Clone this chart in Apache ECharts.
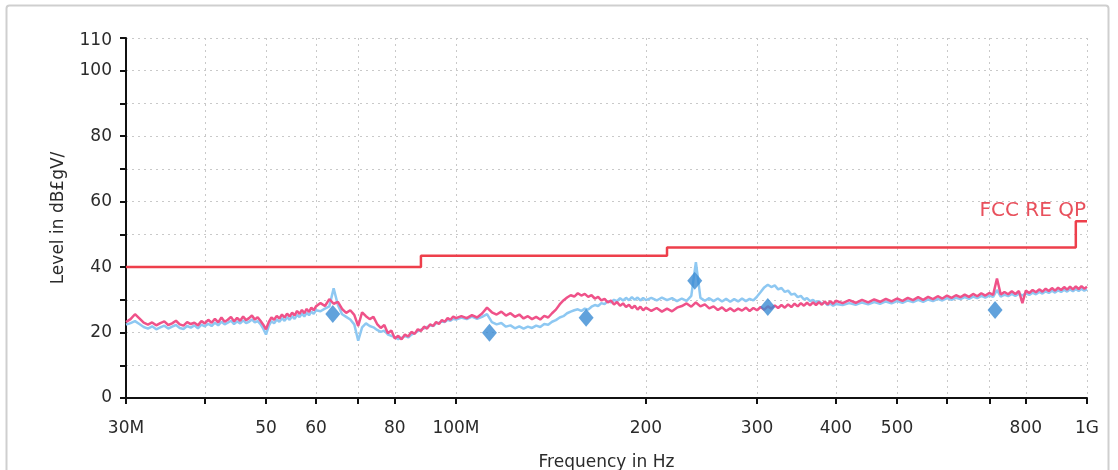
<!DOCTYPE html>
<html>
<head>
<meta charset="utf-8">
<script src="https://cdn.jsdelivr.net/npm/echarts@6/dist/echarts.min.js"></script>
<style>
  html, body { margin: 0; padding: 0; background: #fff; }
  #chart { width: 1118px; height: 470px; }
</style>
</head>
<body>
<div id="chart"></div>
<script>
// sweep frequencies in MHz
var freq = [
  30,30.5,31,31.5,32,32.5,33,33.5,34,34.5,
  35,35.5,36,36.5,37,37.5,38,38.5,39,39.5,
  40,40.5,41,41.5,42,42.5,43,43.5,44,44.5,
  45,45.5,46,46.5,47,47.5,48,48.5,49,49.5,
  50,50.5,51,51.5,52,52.5,53,53.5,54,54.5,
  55,55.5,56,56.5,57,57.5,58,58.5,59,59.5,
  60,
  61,62,63,64,65,66,67,68,69,70,
  71,72,73,74,75,76,77,78,79,80,
  81,82,83,84,85,86,87,88,89,90,
  91,92,93,94,95,96,97,98,99,100,
  102,104,106,108,110,112,114,116,118,120,
  122,124,126,128,130,132,134,136,138,140,
  142,144,146,148,150,152,154,156,158,160,
  162,164,166,168,170,172,174,176,178,180,
  182,184,186,188,190,192,194,196,198,200,
  204,208,212,216,220,224,228,232,236,240,
  244,248,252,256,260,264,268,272,276,280,
  284,288,292,296,300,304,308,312,316,320,
  324,328,332,336,340,344,348,352,356,360,
  364,368,372,376,380,384,388,392,396,400,
  410,420,430,440,450,460,470,480,490,500,
  510,520,530,540,550,560,570,580,590,600,
  610,620,630,640,650,660,670,680,690,700,
  710,720,730,740,750,760,770,780,790,800,
  810,820,830,840,850,860,870,880,890,900,
  910,920,930,940,950,960,970,980,990,1000
];

// pink trace (dBuV/m)
var pinkLevel = [
  23.2,24.1,25.6,24.3,23.0,22.4,23.1,22.2,22.9,23.4,
  22.3,22.8,23.6,22.5,22.1,23.2,22.6,23.0,22.2,23.5,
  22.8,23.9,23.0,24.2,23.1,24.6,23.3,23.9,24.8,23.4,
  24.5,23.6,24.9,23.8,24.4,25.2,24.0,24.7,23.6,22.4,
  21.0,23.2,24.6,23.9,25.1,24.3,25.5,24.6,25.8,24.9,
  26.1,25.2,26.6,25.7,26.9,25.9,27.2,26.3,27.6,26.8,
  28.0,
  29.0,28.1,30.2,28.8,29.4,27.2,26.0,26.8,25.4,22.0,
  26.2,25.0,24.1,24.8,22.6,21.4,22.3,19.8,20.6,18.2,
  19.0,17.9,19.4,18.8,20.2,19.6,21.0,20.5,21.8,21.2,
  22.5,22.0,23.2,22.6,23.8,23.3,24.4,23.9,24.9,24.4,
  25.0,24.4,25.3,24.6,25.8,27.6,26.2,25.5,26.4,25.2,
  25.9,24.8,25.5,24.3,25.0,24.1,24.8,24.0,25.1,24.6,
  25.9,27.0,28.6,29.8,30.7,31.4,31.0,32.0,31.3,31.8,
  30.9,31.4,30.4,30.9,29.8,30.3,29.2,29.8,28.6,29.3,
  28.2,28.9,27.8,28.5,27.4,28.2,27.0,27.9,26.8,27.6,
  26.6,27.5,26.4,27.3,26.5,27.6,28.1,28.9,27.9,29.2,
  28.0,28.6,27.4,28.0,26.9,27.7,26.6,27.4,26.5,27.3,
  26.7,27.6,26.6,27.5,26.8,27.8,27.0,28.0,27.3,28.3,
  27.5,28.4,27.6,28.6,27.8,28.8,28.0,29.0,28.2,29.1,
  28.3,29.2,28.4,29.3,28.5,29.5,28.6,29.6,28.8,29.7,
  29.0,29.9,29.1,30.0,29.2,30.1,29.4,30.3,29.5,30.4,
  29.7,30.6,29.9,30.8,30.0,30.9,30.2,31.1,30.4,31.3,
  30.6,31.4,30.8,31.6,30.9,31.8,31.1,32.0,31.3,32.1,
  31.5,36.5,31.6,32.4,31.7,32.6,31.8,32.7,29.0,32.8,
  32.1,33.0,32.3,33.2,32.5,33.4,32.7,33.6,32.8,33.7,
  33.0,33.9,33.1,34.0,33.2,34.1,33.3,34.2,33.4,34.0
];

// light blue trace (dBuV/m)
var blueLevel = [
  22.4,22.9,23.5,22.6,21.7,21.2,21.9,21.0,21.6,22.1,
  21.2,21.8,22.3,21.4,21.1,22.0,21.5,22.2,21.3,22.4,
  21.9,22.7,22.0,23.0,22.2,23.3,22.5,23.0,23.6,22.6,
  23.4,22.8,23.7,22.9,23.3,24.0,23.1,23.5,22.6,21.2,
  19.4,22.0,23.5,22.8,24.0,23.3,24.4,23.6,24.7,23.9,
  25.0,24.2,25.4,24.7,25.8,24.9,26.0,25.3,26.4,25.7,
  26.8,
  26.5,27.3,28.0,33.5,28.4,25.6,24.8,24.0,22.5,17.5,
  21.6,22.8,22.0,21.6,20.8,20.2,20.6,19.4,19.0,18.6,
  18.0,18.4,18.9,18.5,19.4,19.8,20.4,20.9,21.3,21.7,
  22.2,22.0,22.8,23.0,23.4,23.2,23.9,23.6,24.2,24.0,
  24.6,24.1,24.9,24.2,24.8,25.6,23.2,22.5,22.9,21.8,
  22.2,21.3,21.9,21.2,21.8,21.4,22.1,21.7,22.6,22.4,
  23.3,23.8,24.6,25.0,25.9,26.4,26.8,27.1,26.6,27.3,
  27.0,27.9,28.4,28.1,29.0,28.7,29.6,29.2,30.0,29.6,
  30.5,29.8,30.6,29.9,30.8,30.0,30.7,29.8,30.6,29.9,
  30.6,29.8,30.7,29.9,30.5,29.6,30.4,29.7,31.2,41.5,
  30.6,29.7,30.5,29.6,30.4,29.5,30.3,29.4,30.2,29.5,
  30.4,29.6,30.3,29.8,31.0,32.4,33.8,34.6,33.9,34.4,
  33.2,33.6,32.4,32.8,31.6,31.9,30.8,31.2,30.1,30.5,
  29.6,30.0,29.2,29.6,28.8,29.2,28.4,28.9,28.2,28.7,
  28.4,29.0,28.5,29.2,28.6,29.3,28.8,29.5,28.9,29.6,
  29.1,29.8,29.3,30.0,29.4,30.1,29.6,30.3,29.8,30.5,
  30.0,30.6,30.2,30.8,30.3,31.0,30.5,31.2,30.7,31.3,
  30.9,33.0,31.0,31.6,31.1,31.8,31.2,31.9,31.3,32.0,
  31.5,32.2,31.7,32.4,31.9,32.6,32.1,32.8,32.2,32.9,
  32.4,33.1,32.5,33.2,32.6,33.3,32.7,33.4,32.8,33.2
];

// FCC RE QP limit
var limitFreq  = [30, 88, 88, 216, 216, 960, 960, 1000];
var limitLevel = [40, 40, 43.5, 43.5, 46, 46, 54, 54];

// final QP measurements
var markerFreq  = [63.8, 113, 160.8, 239, 312, 715];
var markerLevel = [25.7, 19.9, 24.5, 35.8, 27.8, 26.9];

var xTicks  = [30, 40, 50, 60, 70, 80, 100, 200, 300, 400, 500, 600, 700, 800, 1000];
var xLabels = [30, 50, 60, 80, 100, 200, 300, 400, 500, 800, 1000];

function pairs(xs, ys) {
  var out = [];
  for (var i = 0; i < xs.length && i < ys.length; i++) out.push([xs[i], ys[i]]);
  return out;
}

var myChart = echarts.init(document.getElementById('chart'));

var font = 'DejaVu Sans, sans-serif';
var gridLine = { show: true, lineStyle: { color: '#c9c9c9', type: [2, 4], width: 1 } };
var txt = { color: '#2b2b2b', fontSize: 17, fontFamily: font };

var option = {
  animation: false,
  backgroundColor: '#fff',
  graphic: [{
    type: 'rect',
    shape: { x: 6.5, y: 5.5, width: 1102, height: 480, r: 3 },
    style: { fill: 'none', stroke: '#cfcfcf', lineWidth: 2 },
    silent: true
  }],
  grid: { left: 126, right: 31, top: 38, bottom: 72, outerBoundsMode: 'none' },
  xAxis: {
    type: 'log',
    logBase: 10,
    min: 30,
    max: 1000,
    name: 'Frequency in Hz',
    nameLocation: 'middle',
    nameGap: 56,
    nameTextStyle: { color: '#2b2b2b', fontSize: 17, fontFamily: font },
    axisLine: { show: true, onZero: false, lineStyle: { color: '#111', width: 2 } },
    axisTick: { show: true, inside: false, length: 6, customValues: xTicks, lineStyle: { color: '#111', width: 2 } },
    axisLabel: Object.assign({
      margin: 22,
      customValues: xLabels,
      formatter: function (v) {
        if (v === 30) return '30M';
        if (v === 100) return '100M';
        if (v === 1000) return '1G';
        return String(v);
      }
    }, txt),
    splitLine: gridLine,
    minorTick: { show: false },
    minorSplitLine: { show: false }
  },
  yAxis: {
    type: 'value',
    min: 0,
    max: 110,
    interval: 10,
    name: 'Level in dB£gV/',
    nameLocation: 'middle',
    nameGap: 59,
    nameTextStyle: { color: '#2b2b2b', fontSize: 17, fontFamily: font },
    axisLine: { show: true, lineStyle: { color: '#111', width: 2 } },
    axisTick: { show: true, length: 6, lineStyle: { color: '#111', width: 2 } },
    axisLabel: Object.assign({
      margin: 14,
      formatter: function (v) {
        if (v === 110) return '{top|110}';
        return (v % 20 === 0) ? String(v) : '';
      },
      rich: { top: { fontSize: 17, fontFamily: font, color: '#2b2b2b', padding: [6, 0, 0, 0] } }
    }, txt),
    splitLine: gridLine
  },
  series: [
    {
      name: 'blue',
      type: 'line',
      data: pairs(freq, blueLevel),
      symbol: 'none',
      lineStyle: { color: '#8ec8f2', width: 2.5 },
      z: 2
    },
    {
      name: 'pink',
      type: 'line',
      data: pairs(freq, pinkLevel),
      symbol: 'none',
      lineStyle: { color: '#ef5289', width: 2.5 },
      z: 3
    },
    {
      name: 'FCC RE QP',
      type: 'line',
      data: pairs(limitFreq, limitLevel),
      symbol: 'none',
      lineStyle: { color: '#ee3f4b', width: 2.5 },
      z: 4,
      markPoint: {
        symbol: 'circle',
        symbolSize: 0,
        data: [{ coord: [limitFreq[limitFreq.length - 1], limitLevel[limitLevel.length - 1]] }],
        label: {
          show: true,
          position: 'top',
          align: 'right',
          offset: [-1, 5],
          formatter: 'FCC RE QP',
          color: '#e8505c',
          fontSize: 20,
          fontFamily: font
        }
      }
    },
    {
      name: 'QP',
      type: 'scatter',
      data: pairs(markerFreq, markerLevel),
      symbol: 'diamond',
      symbolSize: [15, 18],
      itemStyle: { color: '#3a8bd3' },
      z: 5
    }
  ]
};

myChart.setOption(option);
</script>
</body>
</html>
